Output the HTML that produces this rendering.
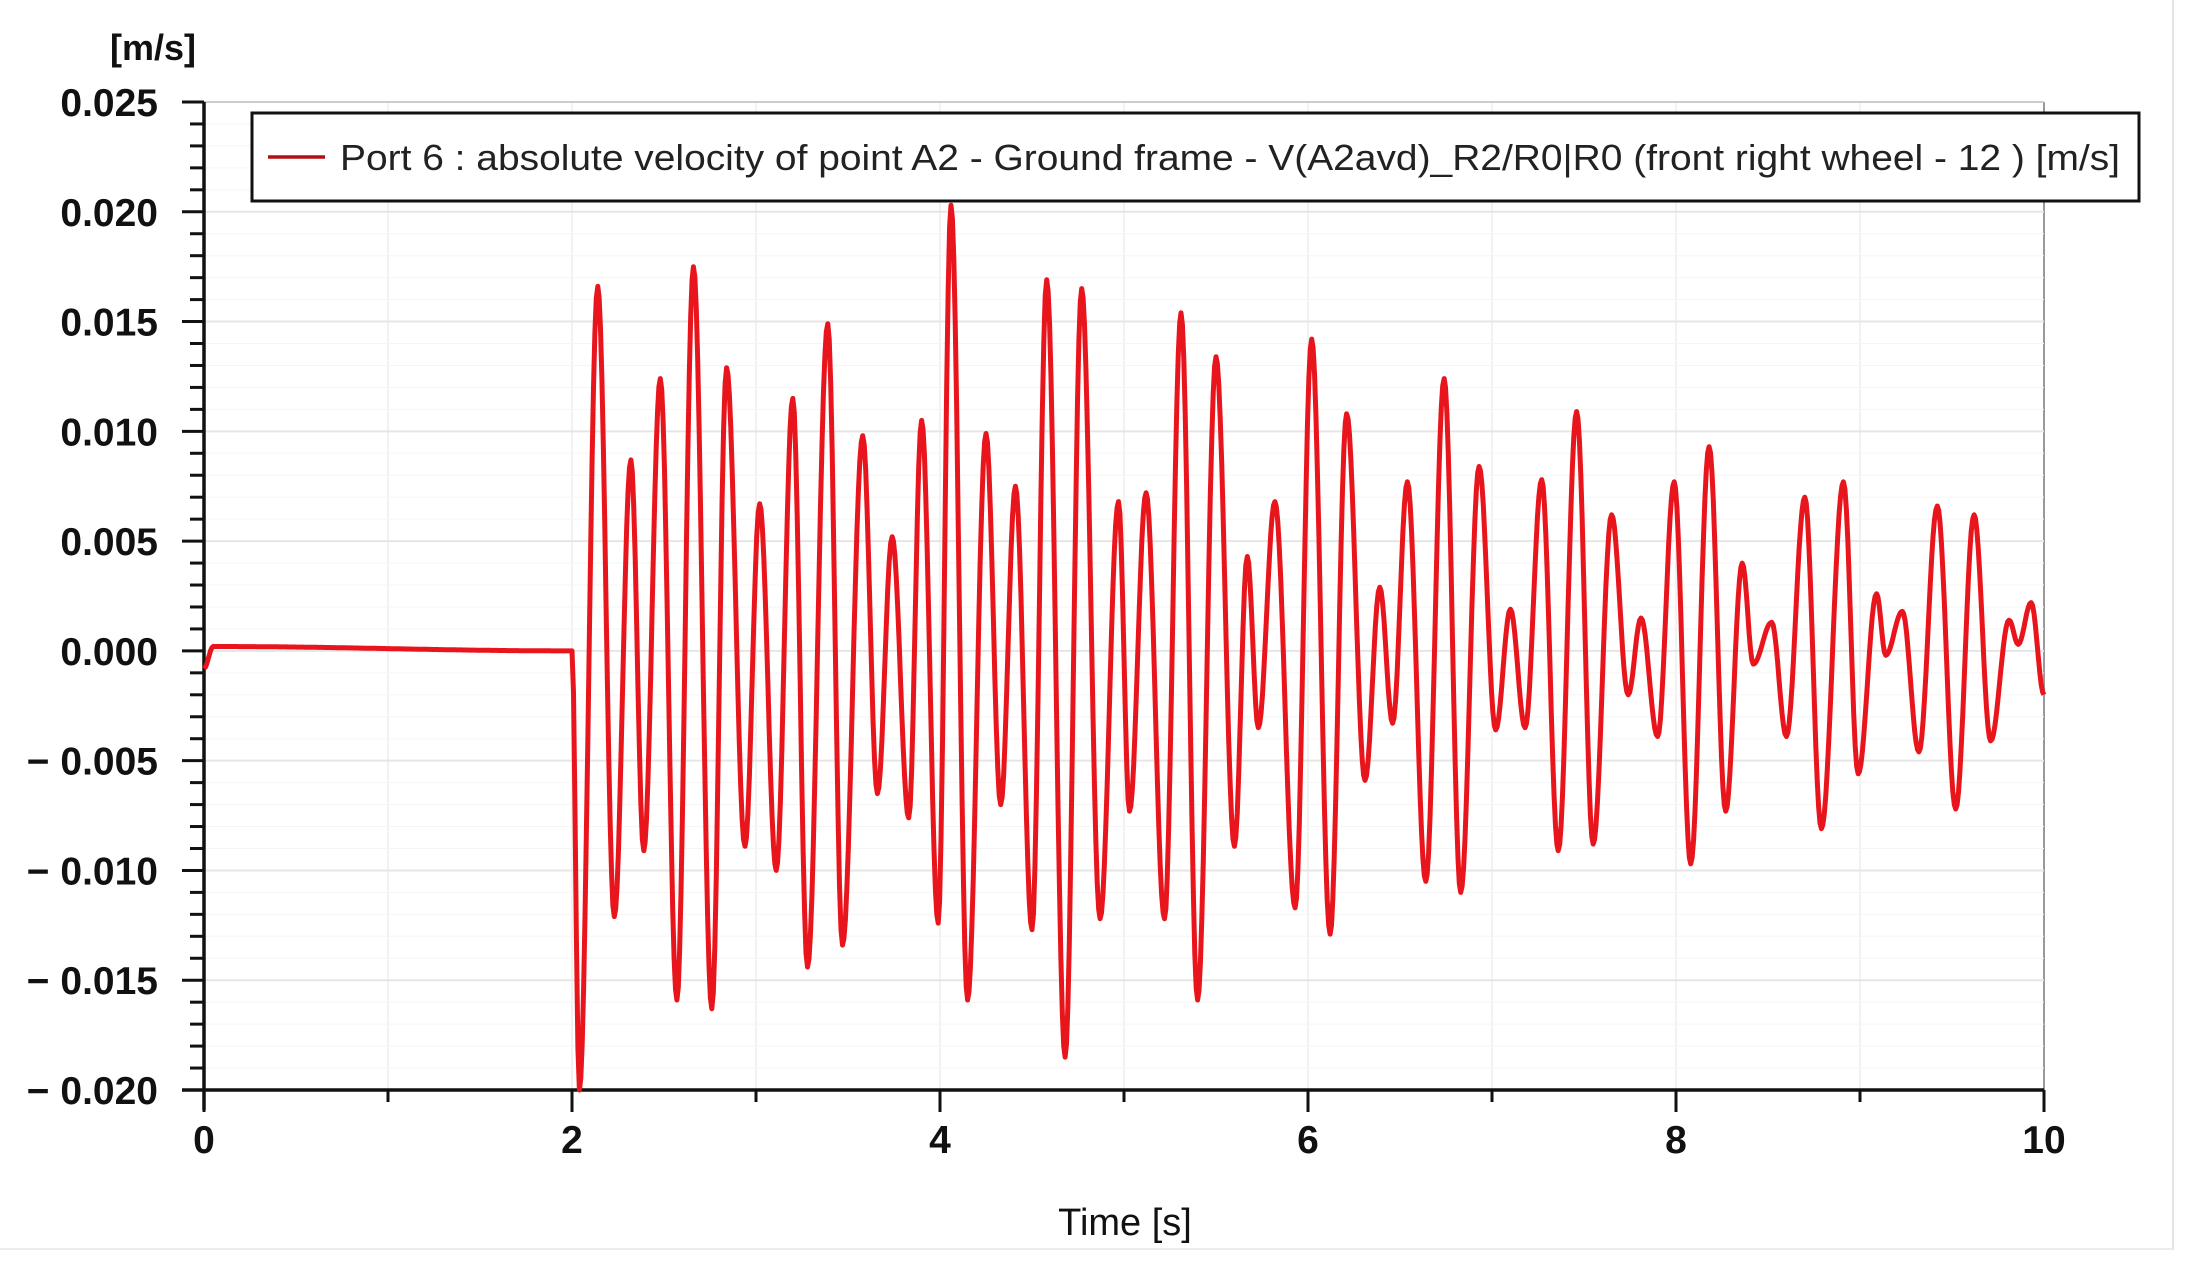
<!DOCTYPE html>
<html><head><meta charset="utf-8"><style>
html,body{margin:0;padding:0;background:#fff;}
svg{display:block;}
text{font-family:"Liberation Sans",sans-serif;}
</style></head><body>
<svg id="chart" width="2185" height="1271" viewBox="0 0 2185 1271">
<rect x="0" y="0" width="2185" height="1271" fill="#fff"/>
<line x1="2173" y1="0" x2="2173" y2="1250" stroke="#e4e4e4" stroke-width="2"/>
<line x1="0" y1="1249" x2="2173" y2="1249" stroke="#ececec" stroke-width="2"/>
<g id="grid"></g>
<g id="axes"></g>
<path id="series" fill="none" stroke="#e8161c" stroke-width="5" stroke-linejoin="round"/>
<g>
  <rect x="252" y="113" width="1887" height="88" fill="#fff" stroke="#111" stroke-width="3"/>
  <line x1="268" y1="157" x2="325" y2="157" stroke="#b01010" stroke-width="3.5"/>
  <text x="340" y="170" font-size="36" fill="#222" textLength="1780" lengthAdjust="spacingAndGlyphs">Port 6 : absolute velocity of point A2 - Ground frame - V(A2avd)_R2/R0|R0 (front right wheel - 12 ) [m/s]</text>
</g>
<text x="153" y="60" font-size="36" font-weight="bold" text-anchor="middle" fill="#111">[m/s]</text>
<text x="1125" y="1235" font-size="38" text-anchor="middle" fill="#111">Time [s]</text>
</svg>
<script>
const tKnots = [0,0.05,2.0,2.04,2.14,2.23,2.32,2.39,2.48,2.57,2.66,2.76,2.84,2.94,3.02,3.11,3.20,3.28,3.39,3.47,3.58,3.66,3.74,3.83,3.90,3.99,4.06,4.15,4.25,4.33,4.41,4.50,4.58,4.68,4.77,4.87,4.97,5.03,5.12,5.22,5.31,5.40,5.50,5.60,5.67,5.73,5.82,5.93,6.02,6.12,6.21,6.31,6.39,6.46,6.54,6.64,6.74,6.83,6.93,7.02,7.10,7.18,7.27,7.36,7.46,7.55,7.65,7.74,7.81,7.90,7.99,8.08,8.18,8.27,8.36,8.42,8.52,8.60,8.70,8.79,8.91,8.99,9.09,9.14,9.23,9.32,9.42,9.52,9.62,9.71,9.81,9.86,9.93,10.0];
const vKnots = [-0.0008,0.0002,0.0,-0.0200,0.0166,-0.0121,0.0087,-0.0091,0.0124,-0.0159,0.0175,-0.0163,0.0129,-0.0089,0.0067,-0.0100,0.0115,-0.0144,0.0149,-0.0134,0.0098,-0.0065,0.0052,-0.0076,0.0105,-0.0124,0.0203,-0.0159,0.0099,-0.0070,0.0075,-0.0127,0.0169,-0.0185,0.0165,-0.0122,0.0068,-0.0073,0.0072,-0.0122,0.0154,-0.0159,0.0134,-0.0089,0.0043,-0.0035,0.0068,-0.0117,0.0142,-0.0129,0.0108,-0.0059,0.0029,-0.0033,0.0077,-0.0105,0.0124,-0.0110,0.0084,-0.0036,0.0019,-0.0035,0.0078,-0.0091,0.0109,-0.0088,0.0062,-0.0020,0.0015,-0.0039,0.0077,-0.0097,0.0093,-0.0073,0.0040,-0.0006,0.0013,-0.0039,0.0070,-0.0081,0.0077,-0.0056,0.0026,-0.0002,0.0018,-0.0046,0.0066,-0.0072,0.0062,-0.0041,0.0014,0.0003,0.0022,-0.0020];
const yTicks = [0.025,0.020,0.015,0.010,0.005,0.000,-0.005,-0.010,-0.015,-0.020];
const yTickLabels = ["0.025","0.020","0.015","0.010","0.005","0.000","− 0.005","− 0.010","− 0.015","− 0.020"];
const xTicks = [0,2,4,6,8,10];
const xTickLabels = ["0","2","4","6","8","10"];

const X0=204, X1=2044, Y0=102, Y1=1090, TMIN=0, TMAX=10, VMAX=0.025, VMIN=-0.020;
function sx(t){return X0+(t-TMIN)/(TMAX-TMIN)*(X1-X0);}
function sy(v){return Y0+(VMAX-v)/(VMAX-VMIN)*(Y1-Y0);}
const NS="http://www.w3.org/2000/svg";
function mk(tag,attrs,parent){const e=document.createElementNS(NS,tag);for(const k in attrs)e.setAttribute(k,attrs[k]);parent.appendChild(e);return e;}
const grid=document.getElementById('grid'), axes=document.getElementById('axes');

for(let t=1;t<=10;t++){
  const l=mk('line',{x1:sx(t),y1:Y0,x2:sx(t),y2:Y1,stroke:t===10?'#999':'#ededed','stroke-width':t===10?2:1.5},grid);
  
  
}
for(let i=0;i<=45;i++){
  const v=VMAX-i*0.001;
  const major=(i%5===0);
  const l=mk('line',{x1:X0,y1:sy(v),x2:X1,y2:sy(v),stroke:i===0?'#ccc':(major?'#e6e6e6':'#f5f5f5'),'stroke-width':major?2:1},grid);
  
  
}
const ya=mk('line',{x1:X0,y1:Y0,x2:X0,y2:Y1+20,stroke:'#111','stroke-width':3.5},axes);


const xa=mk('line',{x1:X0-22,y1:Y1,x2:X1,y2:Y1,stroke:'#111','stroke-width':3.5},axes);


for(let i=0;i<=45;i++){
  const v=VMAX-i*0.001; const major=(i%5===0);
  const l=mk('line',{x1:X0-(major?22:14),y1:sy(v),x2:X0,y2:sy(v),stroke:'#111','stroke-width':3},axes);
  
  
}
yTicks.forEach((v,i)=>{
  const tx=mk('text',{x:158,y:sy(v)+14,'font-size':39,'font-weight':'bold','text-anchor':'end',fill:'#111'},axes);
  tx.textContent=yTickLabels[i];
  
  
});
for(let t=0;t<=10;t++){
  const major=(t%2===0);
  const l=mk('line',{x1:sx(t),y1:Y1,x2:sx(t),y2:Y1+(major?22:12),stroke:'#111','stroke-width':3},axes);
  
  
}
xTicks.forEach((t,i)=>{
  const tx=mk('text',{x:sx(t),y:1153,'font-size':39,'font-weight':'bold','text-anchor':'middle',fill:'#111'},axes);
  tx.textContent=xTickLabels[i];
  
  
});
let d='';
for(let i=0;i<tKnots.length-1;i++){
  const t0=tKnots[i],t1=tKnots[i+1],v0=vKnots[i],v1=vKnots[i+1];
  const n=Math.max(2,Math.ceil((sx(t1)-sx(t0))/1.5));
  for(let k=(i===0?0:1);k<=n;k++){
    const f=k/n; const w=(1-Math.cos(Math.PI*f))/2;
    const t=t0+(t1-t0)*f, v=v0+(v1-v0)*w;
    d+=(d?'L':'M')+sx(t).toFixed(1)+','+sy(v).toFixed(1);
  }
}
document.getElementById('series').setAttribute('d',d);
</script>
</body></html>
